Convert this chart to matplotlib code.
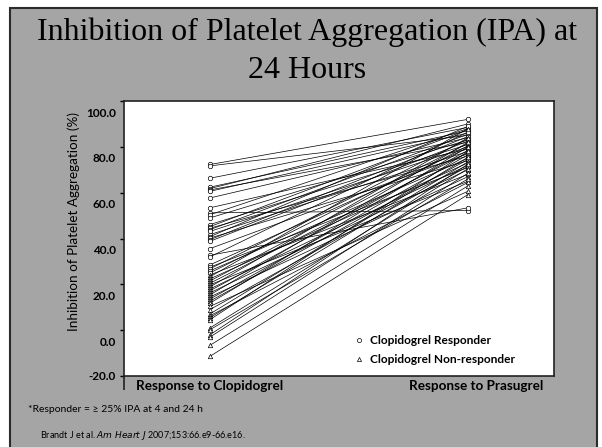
import matplotlib
matplotlib.use("Agg")
import matplotlib.pyplot as plt
from matplotlib.patches import Rectangle
from matplotlib.lines import Line2D
from matplotlib.transforms import ScaledTranslation

# ---- data ----
clopidogrel = [72.3, 71.7, 66.3, 62.4, 61.8, 61.2, 60.6, 57.7, 53.4, 51.2,
               50.4, 49.0, 46.1, 45.2, 44.5, 43.9, 43.1, 41.7, 40.8, 40.2,
               39.5, 38.8, 35.6, 32.7, 32.0, 28.5, 27.5, 26.8, 25.9, 25.0,
               24.1, 23.3, 22.4, 21.5, 20.5, 19.8, 18.9, 18.0, 17.2, 16.3,
               15.4, 14.5, 13.6, 12.7, 11.8, 10.4, 9.0, 7.1, 6.3, 5.5,
               4.6, 1.0, 0.2, -2.0, -3.0, -6.6, -11.4]
prasugrel = [92.0, 85.0, 88.5, 87.0, 90.0, 82.0, 86.0, 84.0, 79.0, 52.2,
             88.0, 83.0, 81.0, 87.5, 76.0, 85.5, 80.0, 78.0, 89.0, 74.0,
             84.5, 82.5, 77.0, 53.4, 86.5, 79.5, 71.0, 83.5, 75.0, 81.5,
             68.0, 88.0, 73.0, 80.5, 77.5, 65.0, 84.0, 72.0, 78.5, 70.0,
             82.0, 67.0, 76.5, 74.5, 80.0, 60.6, 71.5, 75.5, 64.5, 73.5,
             78.0, 70.5, 66.0, 72.5, 68.5, 63.0, 59.2]
responder_threshold = 25
x_labels = ["Response to Clopidogrel", "Response to Prasugrel"]
y_ticks = [-20, 0, 20, 40, 60, 80, 100]

W, H = 602, 447
fig = plt.figure(figsize=(W / 100, H / 100), dpi=100)
fig.patch.set_facecolor("white")

# slide background
fig.add_artist(Rectangle((10 / W, -0.05), 587 / W, 1.05 - 8 / H,
                         transform=fig.transFigure, facecolor="#a5a5a5",
                         edgecolor="#2b2b2b", lw=1.5, zorder=0))

# title
fig.text(307 / W, 1 - 32 / H, "Inhibition of Platelet Aggregation (IPA) at",
         ha="center", va="center", fontsize=23, family="Liberation Serif")
fig.text(307 / W, 1 - 70 / H, "24 Hours", ha="center", va="center",
         fontsize=23, family="Liberation Serif")

ax = fig.add_axes([124 / W, 1 - 376 / H, 430 / W, 275 / H])
ax.set_facecolor("white")
ax.set_xlim(-1 / 3, 4 / 3)
ax.set_ylim(-20, 100)

for l, r in zip(clopidogrel, prasugrel):
    m = "o" if l >= responder_threshold else "^"
    ax.plot([0, 1], [l, r], color="black", lw=0.5, marker=m, ms=3.2,
            mfc="white", mec="black", mew=0.5, zorder=2)

for s in ax.spines.values():
    s.set_color("#222222")
    s.set_linewidth(1.2)

ax.set_yticks(y_ticks)
ax.set_yticklabels([f"{v:.1f}" for v in y_ticks], fontsize=8.5,
                   fontweight="bold", family="Lato")
ax.tick_params(axis="y", direction="out", length=3, width=1, pad=3)
off = ScaledTranslation(0, -11 / 100, fig.dpi_scale_trans)
for lab, v in zip(ax.get_yticklabels(), y_ticks):
    if v != -20:
        lab.set_transform(lab.get_transform() + off)

ax.set_xticks([0, 1])
ax.set_xticklabels(x_labels, fontsize=9.7, fontweight="bold", family="Lato")
ax.tick_params(axis="x", which="major", length=0, pad=3)
ax.set_xticks([-1 / 3], minor=True)
ax.tick_params(axis="x", which="minor", length=10, width=1.2,
               direction="out", color="#222222")
xoff = ScaledTranslation(8 / 100, 0, fig.dpi_scale_trans)
lab2 = ax.get_xticklabels()[1]
lab2.set_transform(lab2.get_transform() + xoff)

ax.set_ylabel("Inhibition of Platelet Aggregation (%)", fontsize=9.7,
              family="Lato")
ax.yaxis.set_label_coords((80 - 124) / 430, (376 - 221) / 275)

handles = [Line2D([], [], ls="none", marker="o", ms=3, mfc="white",
                  mec="black", mew=0.5),
           Line2D([], [], ls="none", marker="^", ms=3, mfc="white",
                  mec="black", mew=0.5)]
leg = ax.legend(handles, ["Clopidogrel Responder", "Clopidogrel Non-responder"],
                loc="lower left", bbox_to_anchor=((345 - 124) / 430, 0.0),
                frameon=False, handlelength=0.6, handletextpad=0.6,
                labelspacing=0.7, prop={"family": "Lato", "weight": "bold",
                                        "size": 8.6})

fig.text(28 / W, 1 - 410 / H, "*Responder = \u2265 25% IPA at 4 and 24 h",
         fontsize=7.5, family="Lato", va="center")
fig.text(40 / W, 1 - 436 / H,
         r"Brandt J et al. $\it{Am\ Heart\ J}$ 2007;153:66.e9-66.e16.",
         fontsize=6.5, family="Lato", va="center")

fig.savefig("out.png", dpi=100, facecolor=fig.get_facecolor())
